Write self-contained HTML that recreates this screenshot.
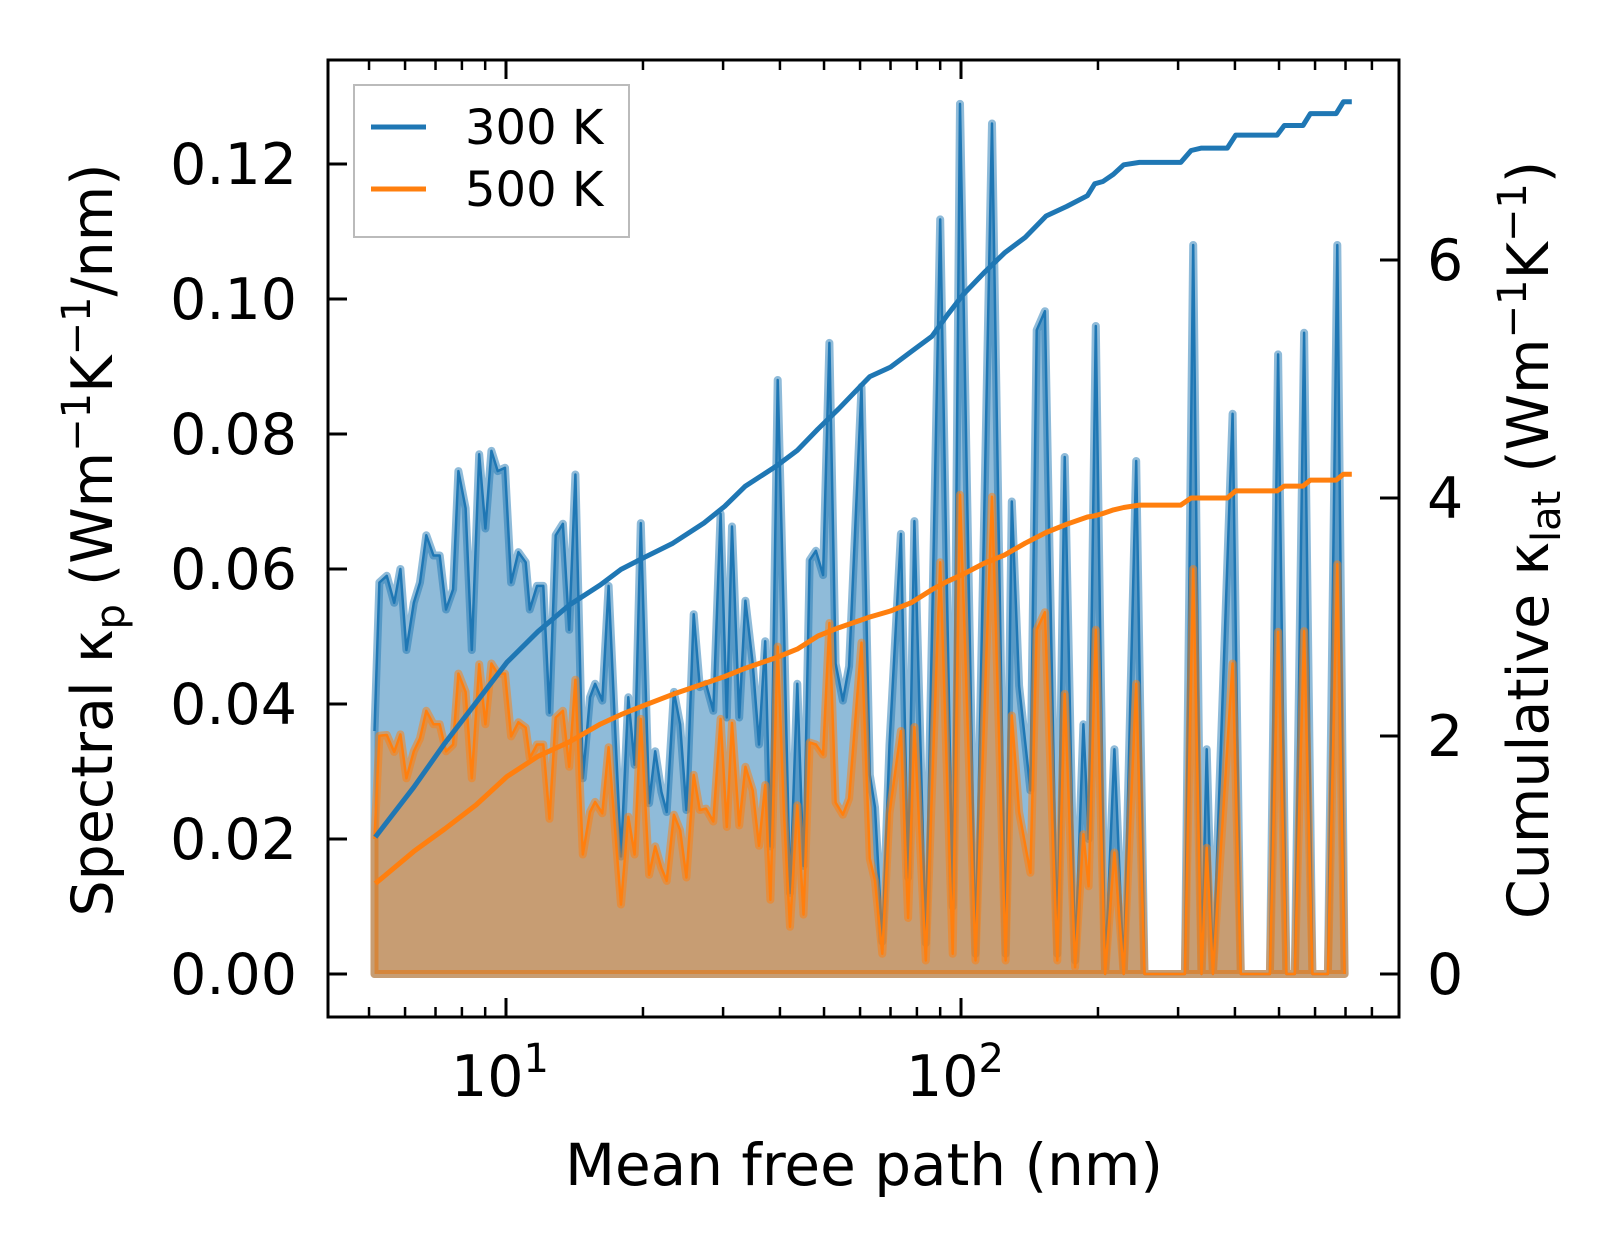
<!DOCTYPE html>
<html><head><meta charset="utf-8"><style>
html,body{margin:0;padding:0;background:#fff}
svg{display:block}
text{font-family:"DejaVu Sans","Liberation Sans",sans-serif;fill:#000}
</style></head><body>
<svg id="chart" width="1623" height="1254" viewBox="0 0 1623 1254" xmlns="http://www.w3.org/2000/svg">
<g id="plot"></g>
</svg>
<script>
const mfp=[5.14,5.27,5.47,5.68,5.86,6.04,6.27,6.47,6.68,6.93,7.15,7.38,7.65,7.86,8.15,8.41,8.73,9.01,9.29,9.59,9.95,10.26,10.65,11.05,11.28,11.70,12.08,12.46,12.86,13.34,13.77,14.21,14.75,15.30,15.70,16.28,16.81,17.90,18.57,19.17,19.78,20.63,21.28,21.96,22.55,23.39,24.14,24.92,25.85,26.67,27.52,28.55,29.62,30.57,31.38,32.55,33.59,34.85,35.97,37.12,38.11,39.54,40.80,42.10,43.67,45.07,46.50,47.98,49.77,51.37,53.01,55.00,56.75,60.44,63.03,64.71,67.14,69.65,73.78,76.53,78.99,83.69,90.03,95.9,99.5,107.6,117.0,125.3,129.3,134.2,142.1,146.7,152.9,162.8,169.0,178.1,185.8,190.7,197.8,207.3,217.3,227.8,242.7,253.1,262.5,310.5,323.8,337.7,346.7,357.8,395.3,412.1,477.3,497.7,519.1,541.4,567.5,591.9,640.4,671.4,696.6];
const k300=[.036,.058,.059,.055,.060,.048,.055,.058,.065,.062,.062,.054,.057,.0745,.069,.048,.077,.066,.0775,.0745,.075,.058,.0625,.061,.054,.0575,.0575,.0387,.065,.0667,.051,.074,.029,.041,.043,.0405,.0575,.0174,.041,.031,.0668,.0253,.033,.027,.024,.0418,.037,.0243,.0533,.0425,.043,.039,.0682,.038,.0663,.038,.0553,.046,.034,.0493,.0189,.088,.052,.012,.043,.016,.0613,.0627,.0591,.0935,.046,.0405,.0456,.087,.0295,.0247,.0048,.034,.0652,.0143,.0671,.0046,.1118,.010,.1289,.003,.126,.003,.070,.0427,.0272,.0954,.0982,.003,.0766,.002,.037,.020,.096,0,.0333,0,.076,0,0,0,.108,0,.0333,0,.083,0,0,.0918,0,0,.095,0,0,.108,0];
const k500=[.020,.0353,.0354,.0329,.0355,.029,.033,.0349,.039,.037,.037,.033,.034,.0445,.0418,.029,.0459,.037,.046,.0445,.0445,.0352,.0373,.0365,.032,.034,.034,.023,.038,.039,.0307,.0436,.0177,.024,.0255,.0238,.0336,.0103,.0233,.0177,.0378,.0147,.0189,.0157,.0138,.0236,.0213,.0143,.0295,.0243,.0245,.0226,.0378,.0218,.0372,.022,.0307,.0272,.019,.028,.011,.0485,.024,.007,.025,.0088,.0343,.034,.0325,.052,.0254,.0236,.026,.0491,.0171,.0138,.003,.0238,.036,.0083,.0366,.002,.061,.003,.071,.002,.0707,.002,.0383,.024,.015,.051,.0536,.002,.0415,.001,.0207,.013,.051,0,.018,0,.043,0,0,0,.060,0,.0187,0,.046,0,0,.0507,0,0,.0508,0,0,.0607,0];
const cumMfp=[5.16,6.27,7.34,8.59,10.05,11.77,13.77,16.12,17.90,19.88,23.27,27.24,30.25,33.59,39.33,43.67,48.49,53.85,59.80,63.03,69.98,77.74,86.35,93.42,101.1,112.2,124.6,138.4,153.8,170.8,189.6,196.7,205.1,216.2,227.8,246.6,257.0,304.1,320.4,337.7,384.9,401.5,495.2,513.6,564.5,585.9,667.8,692.9,722.6];
const cum300=[1.15,1.57,1.94,2.28,2.62,2.88,3.1,3.27,3.4,3.49,3.62,3.79,3.93,4.1,4.27,4.4,4.58,4.75,4.93,5.02,5.1,5.23,5.36,5.54,5.71,5.89,6.06,6.19,6.37,6.45,6.54,6.64,6.66,6.72,6.8,6.82,6.82,6.82,6.92,6.94,6.94,7.05,7.05,7.13,7.13,7.23,7.23,7.33,7.33];
const cum500=[.76,1.03,1.22,1.42,1.66,1.83,1.95,2.1,2.18,2.25,2.35,2.44,2.5,2.57,2.66,2.73,2.84,2.91,2.97,3.0,3.05,3.12,3.23,3.3,3.36,3.45,3.52,3.62,3.71,3.78,3.84,3.85,3.87,3.9,3.92,3.94,3.94,3.94,4.0,4.0,4.0,4.06,4.06,4.1,4.1,4.15,4.15,4.2,4.2];
const leftTicks=[0,0.02,0.04,0.06,0.08,0.10,0.12];
const leftTickLabels=["0.00","0.02","0.04","0.06","0.08","0.10","0.12"];
const rightTicks=[0,2,4,6];
const xMajor=[10,100];
const xMajorExp=["1","2"];
const xMinor=[5,6,7,8,9,20,30,40,50,60,70,80,90,200,300,400,500,600,700,800];

const L=328,R=1399,T=60,B=1017;
const X=m=>506+455*(Math.log10(m)-1);
const YL=v=>974-v/0.02*135;
const YR=v=>974-v*119;
const NS="http://www.w3.org/2000/svg";
const plot=document.getElementById('plot');
function mk(tag,attrs,parent){const e=document.createElementNS(NS,tag);for(const k in attrs)e.setAttribute(k,attrs[k]);(parent||plot).appendChild(e);return e;}

function areaPath(vals){let d='M'+X(mfp[0]).toFixed(1)+','+YL(0).toFixed(1);
 for(let i=0;i<mfp.length;i++)d+=' L'+X(mfp[i]).toFixed(1)+','+YL(vals[i]).toFixed(1);
 d+=' L'+X(mfp[mfp.length-1]).toFixed(1)+','+YL(0).toFixed(1)+' Z';return d;}
function linePath(xs,vals,yf){let d='';for(let i=0;i<xs.length;i++)d+=(i?' L':'M')+X(xs[i]).toFixed(1)+','+yf(vals[i]).toFixed(1);return d;}

let e=mk('path',{d:areaPath(k300),fill:'#1f77b4','fill-opacity':0.5,stroke:'#1f77b4','stroke-opacity':0.5,'stroke-width':8,'stroke-linejoin':'round'});


e=mk('path',{d:linePath(mfp,k300,YL),fill:'none',stroke:'#1f77b4','stroke-width':2.5,'stroke-linejoin':'round'});


e=mk('path',{d:areaPath(k500),fill:'#ff7f0e','fill-opacity':0.5,stroke:'#ff7f0e','stroke-opacity':0.5,'stroke-width':8,'stroke-linejoin':'round'});


e=mk('path',{d:linePath(mfp,k500,YL),fill:'none',stroke:'#ff7f0e','stroke-width':2.5,'stroke-linejoin':'round'});


e=mk('path',{d:linePath(cumMfp,cum300,YR),fill:'none',stroke:'#1f77b4','stroke-width':5,'stroke-linejoin':'round'});


e=mk('path',{d:linePath(cumMfp,cum500,YR),fill:'none',stroke:'#ff7f0e','stroke-width':5,'stroke-linejoin':'round'});



e=mk('rect',{x:L,y:T,width:R-L,height:B-T,fill:'none',stroke:'#000','stroke-width':3});



leftTicks.forEach((v,i)=>{const y=YL(v);
 mk('line',{x1:L,x2:L+19,y1:y,y2:y,stroke:'#000','stroke-width':3});
 const t=mk('text',{x:297,y:y+20,'text-anchor':'end','font-size':57});t.textContent=leftTickLabels[i];
 
 
});
rightTicks.forEach(v=>{const y=YR(v);
 mk('line',{x1:R-19,x2:R,y1:y,y2:y,stroke:'#000','stroke-width':3});
 const t=mk('text',{x:1427,y:y+20,'font-size':57});t.textContent=String(v);
 
 
});
xMajor.forEach((m,i)=>{const x=X(m);
 mk('line',{x1:x,x2:x,y1:B,y2:B-19,stroke:'#000','stroke-width':3});
 mk('line',{x1:x,x2:x,y1:T,y2:T+19,stroke:'#000','stroke-width':3});
 const t=mk('text',{x:x-6,y:1096,'text-anchor':'middle','font-size':57});
 
 
 t.appendChild(document.createTextNode('10'));
 const s=document.createElementNS(NS,'tspan');s.setAttribute('font-size',40);s.setAttribute('dy',-24);s.textContent=xMajorExp[i];t.appendChild(s);
});
xMinor.forEach(m=>{const x=X(m);
 mk('line',{x1:x,x2:x,y1:B,y2:B-10,stroke:'#000','stroke-width':2.5});
 mk('line',{x1:x,x2:x,y1:T,y2:T+10,stroke:'#000','stroke-width':2.5});
});
</script>
<svg style="position:absolute;left:0;top:0" width="1623" height="1254" xmlns="http://www.w3.org/2000/svg">
<text x="864" y="1185" text-anchor="middle" font-size="58" style="font-family:'DejaVu Sans','Liberation Sans',sans-serif">Mean free path (nm)</text>
<text transform="translate(112,540) rotate(-90)" text-anchor="middle" font-size="57" style="font-family:'DejaVu Sans','Liberation Sans',sans-serif">Spectral κ<tspan font-size="40" dy="12">p</tspan><tspan dy="-12"> (Wm</tspan><tspan font-size="40" dy="-22">−1</tspan><tspan dy="22">K</tspan><tspan font-size="40" dy="-22">−1</tspan><tspan dy="22">/nm)</tspan></text>
<text transform="translate(1548,540) rotate(-90)" text-anchor="middle" font-size="57" style="font-family:'DejaVu Sans','Liberation Sans',sans-serif">Cumulative κ<tspan font-size="40" dy="12">lat</tspan><tspan dy="-12"> (Wm</tspan><tspan font-size="40" dy="-22">−1</tspan><tspan dy="22">K</tspan><tspan font-size="40" dy="-22">−1</tspan><tspan dy="22">)</tspan></text>
<g>
<rect x="354" y="85" width="275" height="152" fill="#fff" fill-opacity="0.8" stroke="#bbb" stroke-width="2"/>
<line x1="371" x2="426" y1="127" y2="127" stroke="#1f77b4" stroke-width="5"/>
<text x="465" y="144" font-size="48" style="font-family:'DejaVu Sans','Liberation Sans',sans-serif">300 K</text>
<line x1="371" x2="426" y1="189" y2="189" stroke="#ff7f0e" stroke-width="5"/>
<text x="465" y="206" font-size="48" style="font-family:'DejaVu Sans','Liberation Sans',sans-serif">500 K</text>
</g>
</svg>
</body></html>
